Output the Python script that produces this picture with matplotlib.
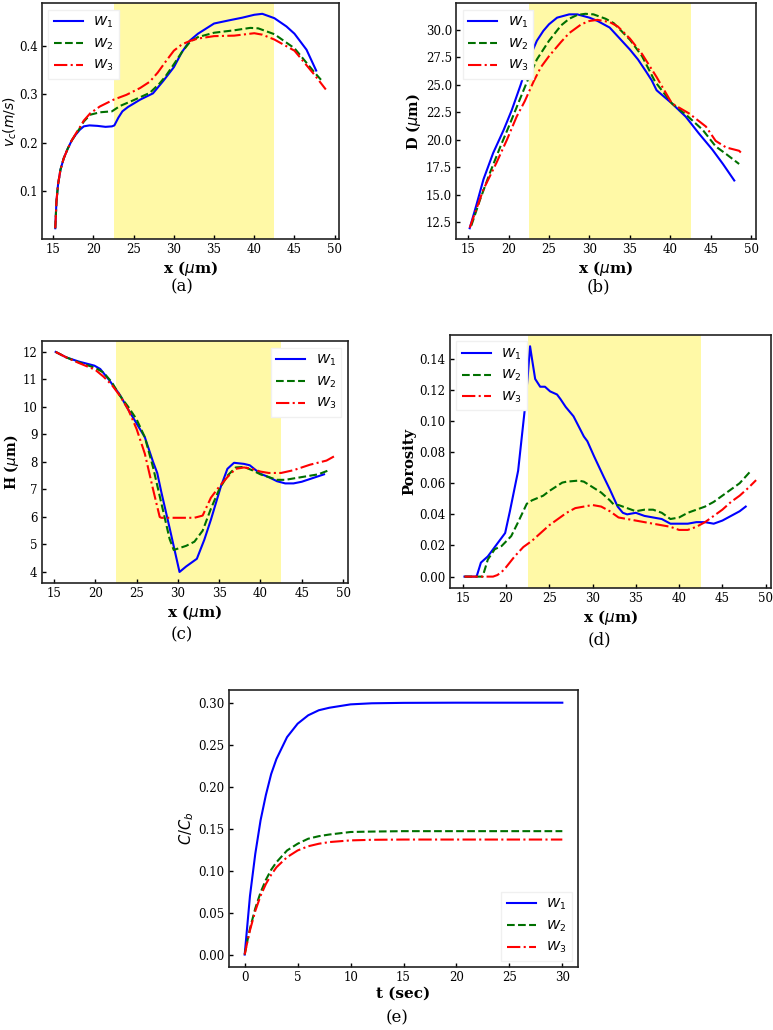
import numpy as np
import matplotlib
matplotlib.use("Agg")
import matplotlib.pyplot as plt

plt.rcParams['font.family'] = ['DejaVu Serif']
plt.rcParams['mathtext.fontset'] = 'dejavusans'

labels = [r'$W_1$', r'$W_2$', r'$W_3$']
colors = ['#0000ff', '#007000', '#ff0000']
styles = ['-', '--', '-.']
shade = (22.5, 42.5)

# (a) velocity
a_x1 = [15.25, 15.4, 15.6, 15.9, 16.3, 16.8, 17.3, 17.8, 18.3, 18.8, 19.5, 20.5, 21.5, 22.3, 22.6, 23.1,
        23.6, 24.3, 25.0, 25.8, 27.4, 28.7, 30.0, 31.0, 32.0, 33.0, 35.0, 37.0, 38.5, 40.0, 41.0, 42.5,
        44.0, 45.0, 46.5, 47.7]
a_y1 = [0.024, 0.08, 0.115, 0.145, 0.168, 0.188, 0.205, 0.217, 0.227, 0.234, 0.236, 0.235, 0.233, 0.234,
        0.236, 0.252, 0.265, 0.274, 0.281, 0.289, 0.302, 0.328, 0.356, 0.387, 0.411, 0.425, 0.446, 0.453,
        0.458, 0.464, 0.466, 0.457, 0.44, 0.425, 0.392, 0.349]
a_x2 = [15.25, 15.4, 15.6, 15.9, 16.3, 16.8, 17.3, 17.8, 18.3, 18.8, 19.6, 20.8, 22.3, 23.3, 25.0, 27.0,
        28.2, 29.0, 30.0, 31.0, 32.0, 33.0, 35.0, 37.5, 39.5, 40.5, 42.5, 45.0, 47.5, 48.3]
a_y2 = [0.024, 0.08, 0.115, 0.145, 0.168, 0.188, 0.205, 0.218, 0.23, 0.244, 0.258, 0.263, 0.265, 0.276,
        0.288, 0.303, 0.322, 0.338, 0.362, 0.387, 0.408, 0.418, 0.427, 0.432, 0.437, 0.436, 0.424, 0.395,
        0.345, 0.33]
a_x3 = [15.25, 15.4, 15.6, 15.9, 16.3, 16.8, 17.3, 17.8, 18.3, 18.8, 19.6, 20.8, 22.5, 24.1, 25.8, 27.0,
        28.0, 29.0, 30.0, 31.0, 32.0, 33.0, 35.0, 37.5, 40.0, 41.0, 42.5, 45.0, 47.5, 48.9]
a_y3 = [0.024, 0.08, 0.115, 0.145, 0.168, 0.188, 0.205, 0.219, 0.232, 0.246, 0.261, 0.275, 0.289, 0.299,
        0.313, 0.326, 0.345, 0.368, 0.39, 0.403, 0.41, 0.415, 0.42, 0.421, 0.426, 0.423, 0.413, 0.39,
        0.34, 0.31]

# (b) D
b_x1 = [15.2, 16.0, 16.9, 18.1, 19.4, 20.4, 21.5, 22.5, 23.5, 24.3, 25.0, 26.0, 27.5, 28.5, 30.0, 31.0,
        32.5, 34.0, 35.0, 36.0, 37.0, 37.7, 38.3, 40.2, 41.9, 43.5, 45.2, 46.5, 47.9]
b_y1 = [11.96, 14.0, 16.4, 18.8, 20.9, 22.7, 25.0, 27.3, 29.0, 29.9, 30.5, 31.1, 31.4, 31.4, 31.1, 30.8,
        30.2, 29.0, 28.2, 27.3, 26.2, 25.4, 24.5, 23.3, 22.1, 20.6, 19.1, 17.8, 16.3]
b_x2 = [15.4, 16.5, 17.7, 19.0, 20.2, 21.3, 22.3, 23.5, 25.0, 26.5, 27.5, 28.5, 29.5, 30.5, 32.0, 33.0,
        35.0, 36.5, 38.1, 40.2, 41.9, 44.0, 45.6, 46.9, 48.5]
b_y2 = [12.2, 14.6, 17.0, 19.4, 21.5, 23.5, 25.3, 27.3, 29.0, 30.4, 31.0, 31.35, 31.45, 31.4, 31.0, 30.6,
        29.1, 27.6, 25.3, 23.3, 22.3, 20.9, 19.4, 18.7, 17.8]
b_x3 = [15.2, 16.9, 18.5, 19.8, 21.0, 22.0, 23.1, 24.0, 25.0, 26.5, 27.5, 29.0, 30.0, 31.0, 32.5, 33.5,
        35.0, 36.5, 38.3, 40.2, 42.3, 44.4, 45.6, 46.9, 48.5, 48.9]
b_y3 = [12.0, 15.5, 17.9, 20.0, 22.1, 23.5, 25.3, 26.6, 27.6, 28.9, 29.7, 30.5, 30.8, 30.9, 30.7, 30.3,
        29.2, 27.8, 25.7, 23.3, 22.4, 21.2, 19.9, 19.3, 19.0, 18.7]

# (c) H
c_x1 = [15.2, 16.5, 18.0, 19.9, 20.6, 21.7, 23.0, 24.0, 25.0, 26.0, 27.0, 27.5, 28.0, 29.0, 30.2, 31.0,
        32.3, 33.2, 34.0, 35.2, 36.0, 36.8, 38.0, 38.7, 40.0, 41.0, 42.0, 43.0, 44.0, 45.0, 46.0, 47.7]
c_y1 = [12.0, 11.8, 11.65, 11.5, 11.38, 10.97, 10.43, 9.9, 9.4, 8.9, 8.0, 7.6, 6.9, 5.6, 4.0, 4.2, 4.48,
        5.17, 5.9, 7.1, 7.75, 7.97, 7.93, 7.88, 7.57, 7.45, 7.3, 7.22, 7.22, 7.28, 7.38, 7.55]
c_x2 = [15.2, 16.5, 18.0, 20.0, 21.0, 22.0, 23.0, 24.0, 25.0, 26.0, 27.0, 28.0, 29.0, 29.5, 30.0, 31.0,
        32.0, 33.0, 34.0, 35.0, 36.0, 37.0, 38.0, 39.0, 40.0, 41.0, 42.0, 43.0, 45.0, 47.0, 48.3]
c_y2 = [12.0, 11.8, 11.62, 11.42, 11.25, 10.9, 10.4, 10.0, 9.55, 8.9, 7.8, 6.5, 5.2, 4.8, 4.85, 4.95, 5.1,
        5.5, 6.3, 7.0, 7.5, 7.8, 7.82, 7.7, 7.55, 7.45, 7.35, 7.35, 7.45, 7.55, 7.7]
c_x3 = [15.2, 16.5, 18.0, 20.0, 21.0, 22.0, 23.0, 24.0, 25.0, 26.0, 27.0, 27.8, 28.0, 30.0, 32.0, 33.0,
        34.0, 35.0, 36.0, 37.0, 38.0, 39.0, 40.0, 41.0, 42.5, 44.0, 46.0, 48.0, 48.9]
c_y3 = [12.0, 11.8, 11.6, 11.35, 11.1, 10.8, 10.4, 9.9, 9.2, 8.3, 7.0, 6.0, 5.97, 5.97, 5.97, 6.05, 6.7,
        7.1, 7.45, 7.75, 7.8, 7.75, 7.65, 7.6, 7.6, 7.7, 7.9, 8.05, 8.2]

# (d) porosity
d_x1 = [15.2, 16.6, 17.1, 17.9, 19.1, 19.9, 20.45, 21.4, 22.2, 22.5, 22.78, 23.0, 23.37, 23.95, 24.5,
        25.1, 25.9, 26.3, 26.9, 27.8, 29.0, 29.4, 30.2, 31.3, 32.0, 32.9, 33.5, 34.0, 35.0, 36.0, 37.0,
        38.0, 39.0, 40.0, 41.0, 42.0, 43.0, 44.0, 45.0, 46.0, 47.0, 47.7]
d_y1 = [0, 0, 0.009, 0.013, 0.022, 0.028, 0.042, 0.068, 0.109, 0.128, 0.148, 0.14, 0.127, 0.122, 0.122,
        0.119, 0.117, 0.114, 0.109, 0.103, 0.09, 0.087, 0.077, 0.064, 0.056, 0.045, 0.041, 0.040, 0.041,
        0.039, 0.038, 0.037, 0.034, 0.034, 0.034, 0.035, 0.035, 0.034, 0.036, 0.039, 0.042, 0.045]
d_x2 = [15.2, 17.3, 17.9, 18.7, 19.5, 20.6, 21.4, 22.4, 23.0, 24.3, 25.0, 26.5, 27.0, 28.4, 29.0, 30.2,
        31.0, 32.0, 32.5, 33.0, 34.0, 35.0, 36.0, 37.0, 38.0, 39.0, 40.0, 41.0, 42.0, 43.0, 44.0, 45.0,
        46.0, 47.0, 48.3]
d_y2 = [0, 0, 0.011, 0.0176, 0.0197, 0.026, 0.035, 0.0468, 0.049, 0.052, 0.055, 0.0604, 0.061, 0.0617,
        0.061, 0.0568, 0.054, 0.049, 0.046, 0.046, 0.044, 0.042, 0.043, 0.043, 0.041, 0.037, 0.038, 0.041,
        0.043, 0.045, 0.048, 0.052, 0.056, 0.06, 0.068]
d_x3 = [15.2, 18.5, 19.0, 19.5, 20.0, 21.0, 22.0, 22.5, 23.0, 24.0, 25.0, 26.0, 27.0, 28.0, 29.0, 30.0,
        31.0, 32.0, 33.0, 34.0, 35.0, 36.0, 37.0, 38.0, 39.0, 40.0, 41.0, 42.0, 43.0, 44.0, 45.0, 46.0,
        47.0, 48.0, 48.9]
d_y3 = [0, 0, 0.001, 0.003, 0.006, 0.013, 0.019, 0.021, 0.023, 0.028, 0.033, 0.037, 0.041, 0.044, 0.045,
        0.046, 0.045, 0.042, 0.038, 0.037, 0.036, 0.035, 0.034, 0.033, 0.032, 0.030, 0.030, 0.032, 0.035,
        0.039, 0.043, 0.048, 0.052, 0.057, 0.062]

# (e) concentration vs time
e_t = [0, 0.25, 0.5, 1, 1.5, 2, 2.5, 3, 4, 5, 6, 7, 8, 10, 12, 15, 20, 25, 30]
e_y1 = [0, 0.035, 0.07, 0.12, 0.16, 0.19, 0.215, 0.233, 0.259, 0.275, 0.285, 0.291, 0.294, 0.298, 0.2993,
        0.2998, 0.3, 0.3, 0.3]
e_y2 = [0, 0.016, 0.031, 0.055, 0.074, 0.089, 0.101, 0.11, 0.124, 0.132, 0.138, 0.141, 0.143, 0.146,
        0.1465, 0.147, 0.147, 0.147, 0.147]
e_y3 = [0, 0.015, 0.029, 0.052, 0.07, 0.084, 0.095, 0.104, 0.116, 0.124, 0.129, 0.132, 0.134, 0.136,
        0.1367, 0.137, 0.137, 0.137, 0.137]

fig = plt.figure(figsize=(7.73, 10.3), dpi=100)


def style_ax(ax):
    ax.tick_params(direction='in', length=3, width=1, labelsize=8.5, pad=3)
    for s in ax.spines.values():
        s.set_linewidth(1.2)
        s.set_color('#222222')


def panel(rect, xs, ys, ylabel, tag, tagpos, loc, shaded=True, xlabel=r'x ($\mu$m)',
          ysize=10.5, ypad=2, ybold=True):
    ax = fig.add_axes(rect)
    if shaded:
        ax.axvspan(*shade, color='#fff9a6', lw=0)
    for x, y, c, ls, lb in zip(xs, ys, colors, styles, labels):
        ax.plot(x, y, color=c, ls=ls, lw=1.5, label=lb)
    style_ax(ax)
    ax.set_xlabel(xlabel, fontsize=11, fontweight='bold', labelpad=2)
    ax.set_ylabel(ylabel, fontsize=ysize, labelpad=ypad,
                  fontweight='bold' if ybold else 'normal')
    ax.legend(loc=loc, fontsize=9.5, frameon=True, fancybox=False, edgecolor='#f0f0f0',
              framealpha=1, handlelength=2.2)
    fig.text(tagpos[0], tagpos[1], tag, fontsize=12, ha='center', va='center')
    return ax


ax = panel([0.054, 0.768, 0.385, 0.229], [a_x1, a_x2, a_x3], [a_y1, a_y2, a_y3],
           r'$v_c(m/s)$', '(a)', (0.235, 0.7217), 'upper left', ysize=10, ypad=0, ybold=False)
ax.set_xticks([15, 20, 25, 30, 35, 40, 45, 50])
ax.set_yticks([0.1, 0.2, 0.3, 0.4])

ax = panel([0.590, 0.768, 0.388, 0.229], [b_x1, b_x2, b_x3], [b_y1, b_y2, b_y3],
           r'D ($\mu$m)', '(b)', (0.774, 0.7217), 'upper left')
ax.set_xticks([15, 20, 25, 30, 35, 40, 45, 50])
ax.set_yticks([12.5, 15, 17.5, 20, 22.5, 25, 27.5, 30])

ax = panel([0.054, 0.434, 0.396, 0.235], [c_x1, c_x2, c_x3], [c_y1, c_y2, c_y3],
           r'H ($\mu$m)', '(c)', (0.2355, 0.3835), 'upper right', ysize=10, ypad=1)
ax.set_xticks([15, 20, 25, 30, 35, 40, 45, 50])

ax = panel([0.582, 0.429, 0.415, 0.246], [d_x1, d_x2, d_x3], [d_y1, d_y2, d_y3],
           'Porosity', '(d)', (0.776, 0.3786), 'upper left')
ax.set_xticks([15, 20, 25, 30, 35, 40, 45, 50])
ax.set_yticks([0, 0.02, 0.04, 0.06, 0.08, 0.10, 0.12, 0.14])

ax = panel([0.296, 0.061, 0.452, 0.269], [e_t, e_t, e_t], [e_y1, e_y2, e_y3],
           r'$C/C_b$', '(e)', (0.5136, 0.0117), 'lower right', shaded=False, xlabel='t (sec)',
           ybold=False)
ax.set_xticks([0, 5, 10, 15, 20, 25, 30])
ax.set_yticks([0, 0.05, 0.10, 0.15, 0.20, 0.25, 0.30])
ax.yaxis.set_major_formatter(matplotlib.ticker.FormatStrFormatter('%.2f'))

fig.savefig('out.png', dpi=100)
